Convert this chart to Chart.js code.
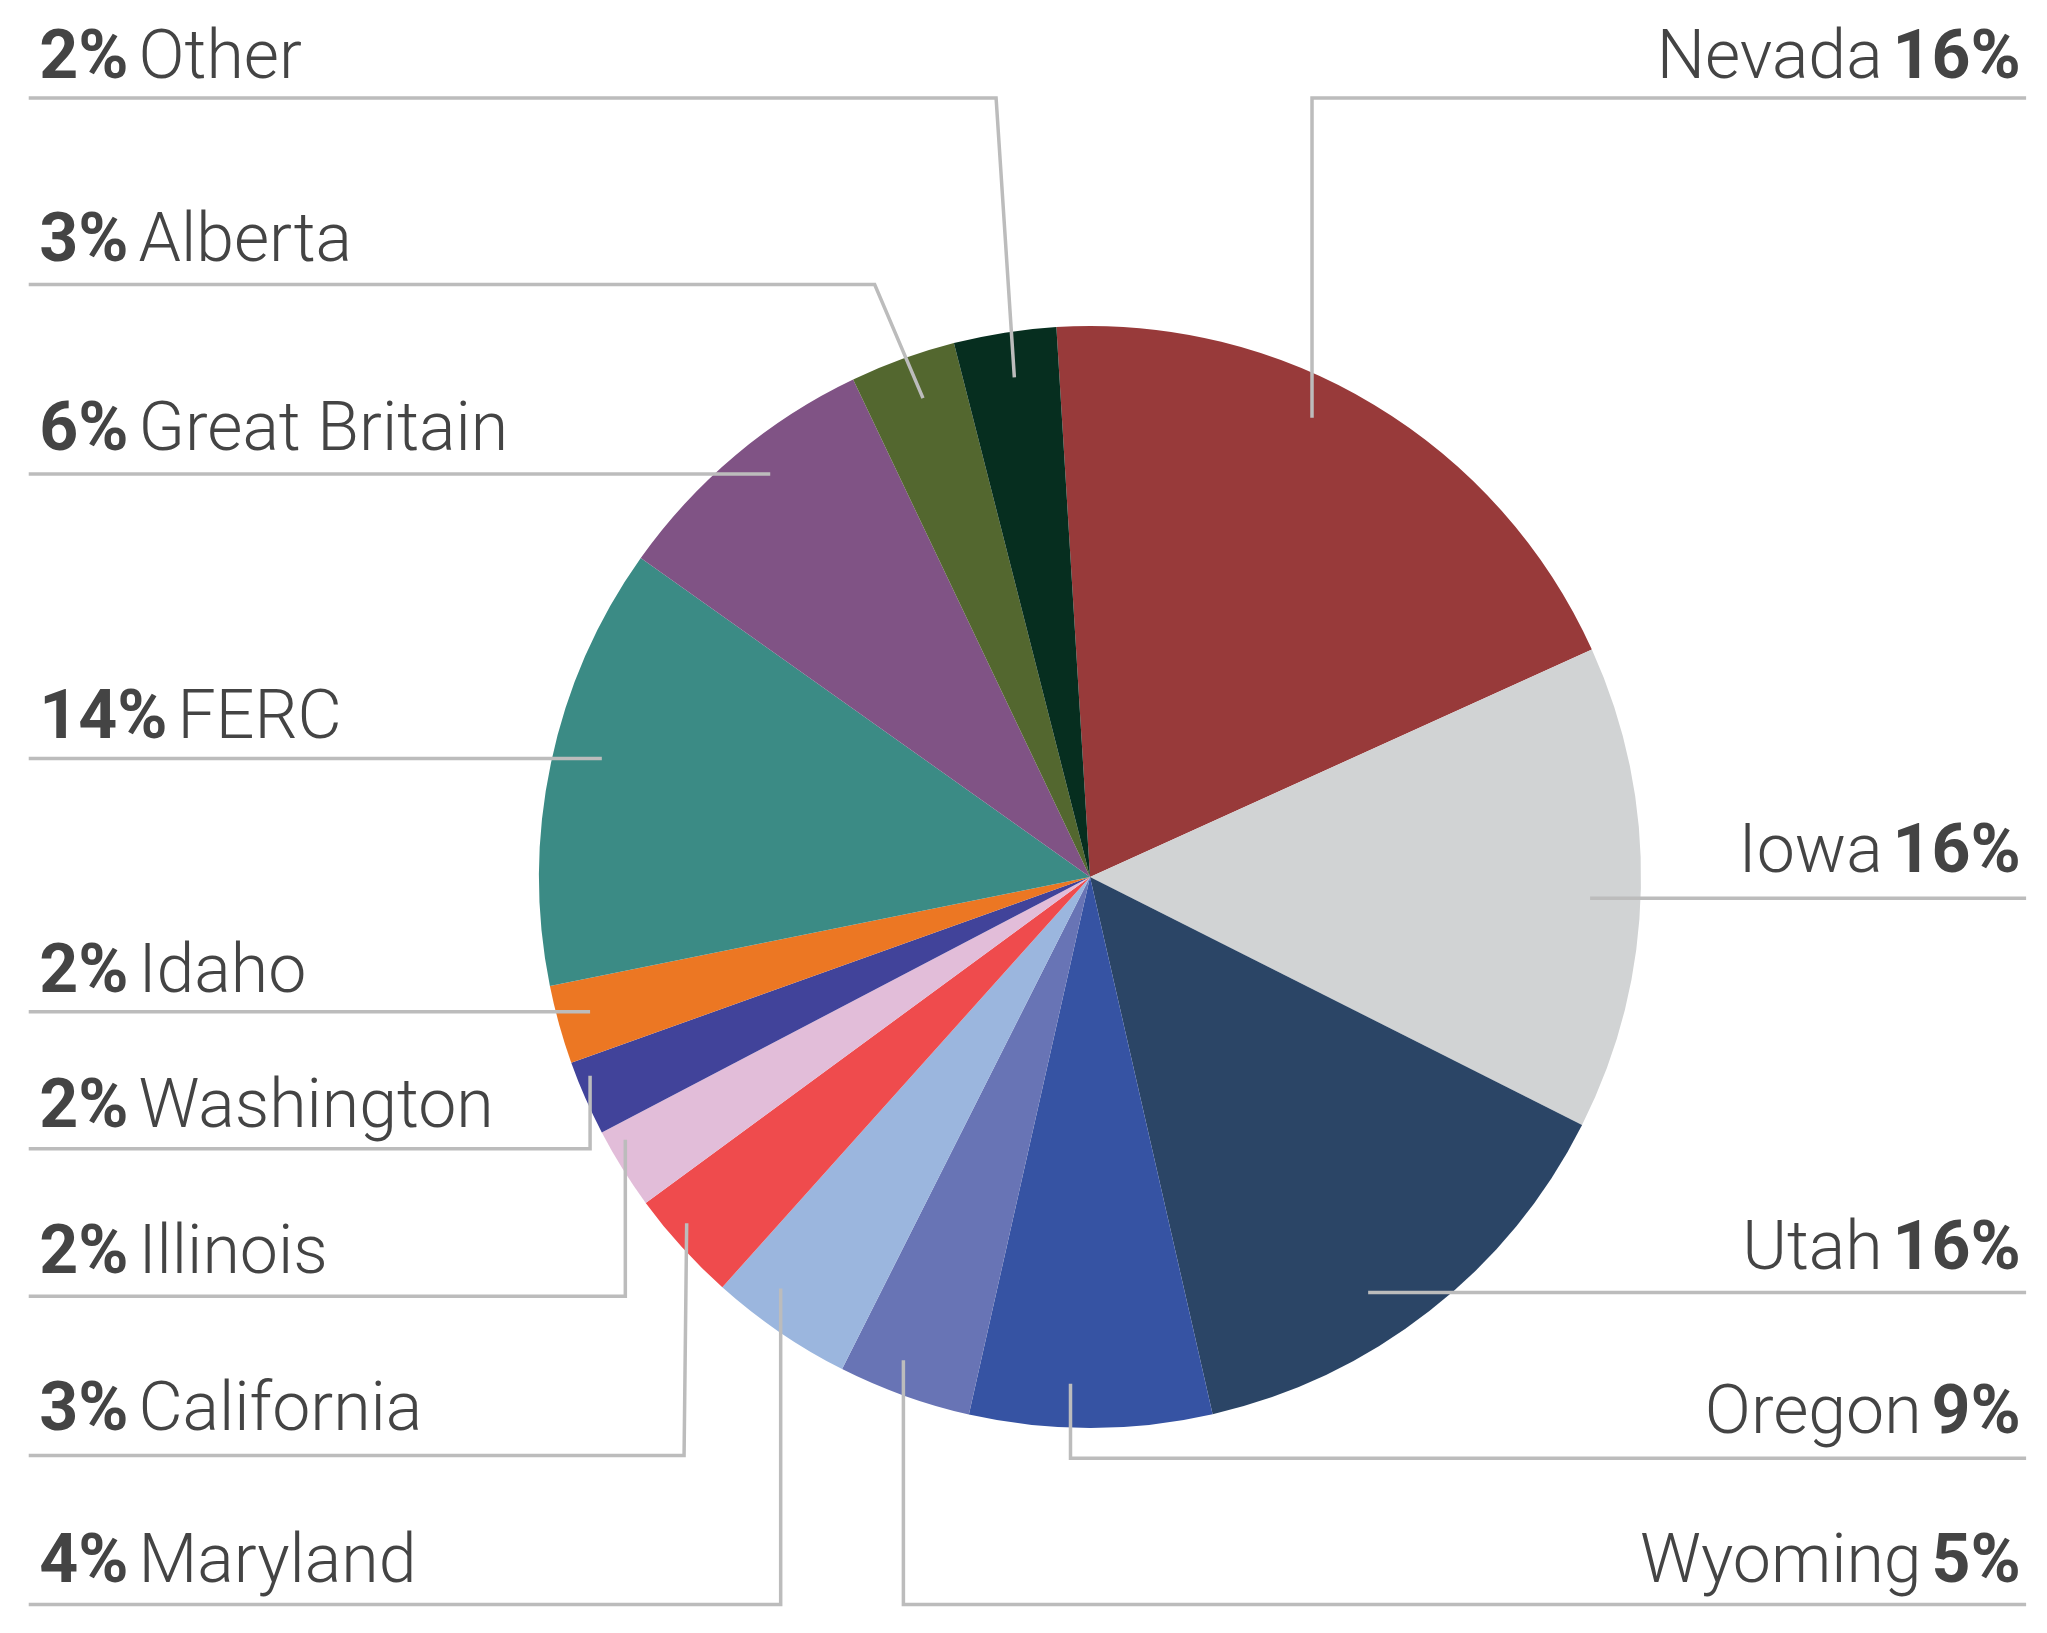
<!DOCTYPE html>
<html><head><meta charset="utf-8">
<script src="https://cdn.jsdelivr.net/npm/chart.js@4/dist/chart.umd.min.js"></script>
<style>html,body{margin:0;padding:0;background:#fff}#w{width:2047px;height:1633px}</style>
</head><body><div id="w"><canvas id="c"></canvas></div>
<script>
const categories = ["Nevada","Iowa","Utah","Oregon","Wyoming","Maryland","California","Illinois","Washington","Idaho","FERC","Great Britain","Alberta","Other"];
const values = [19.2,14.2,14.0,7.1,3.9,4.2,3.3,2.4,2.2,2.3,13.0,8.1,3.1,3.0];
const labelPct = ["16%","16%","16%","9%","5%","4%","3%","2%","2%","2%","14%","6%","3%","2%"];
const colors = ["#983a3a","#d1d3d4","#2b4566","#3653a3","#6874b5","#9bb6de","#ef4b4d","#e2bdd9","#41439a","#ec7723","#3b8b85","#805385","#53672f","#062e1f"];
const S = 2047/1568;
const layout = [
 ["R",60,75,1005,1005,320],
 ["R",668,688,1218,1218,688],
 ["R",972,990,1048,1048,990],
 ["R",1098,1117,820,820,1060],
 ["R",1212,1229,692,692,1042],
 ["L",1212,1229,598,598,987],
 ["L",1095,1115,524,526,937],
 ["L",975,993,479,479,873],
 ["L",863,880,452,452,824],
 ["L",760,775,452,452,775],
 ["L",565,581,461,461,581],
 ["L",345,363,590,590,363],
 ["L",200,218,670,707,305],
 ["L",60,75,763,777,289]
];
const labelPlugin = {
 id:'lbl',
 afterDraw(chart){
  const ctx = chart.ctx;
  ctx.save();
  ctx.strokeStyle = '#bcbcbc'; ctx.lineWidth = 3.5; ctx.lineJoin='miter';
  const fs = 68;
  const bold = `700 ${fs}px Roboto`, light = `300 ${fs}px Roboto`;
  categories.forEach((name,i)=>{
   const [side,ty,ly,ex,ax,ay] = layout[i];
   const x0 = side==="L" ? 22 : 1552;
   ctx.beginPath();
   ctx.moveTo(x0*S, ly*S); ctx.lineTo(ex*S, ly*S); ctx.lineTo(ax*S, ay*S);
   ctx.stroke();
   ctx.fillStyle = '#444'; ctx.textBaseline='alphabetic';
   const y = ty*S;
   if (side==="L"){
    let x = 30*S;
    ctx.font = bold; ctx.textAlign='left'; ctx.fillText(labelPct[i], x, y);
    x += ctx.measureText(labelPct[i]).width + 10;
    ctx.font = light; ctx.fillText(name, x, y);
   } else {
    let x = 1548*S;
    ctx.font = bold; ctx.textAlign='right'; ctx.fillText(labelPct[i], x, y);
    x -= ctx.measureText(labelPct[i]).width + 10;
    ctx.font = light; ctx.fillText(name, x, y);
   }
  });
  ctx.restore();
 }
};
new Chart(document.getElementById('c'),{
 type:'pie',
 data:{labels:categories,datasets:[{data:values,backgroundColor:colors,borderWidth:0}]},
 options:{responsive:true,maintainAspectRatio:false,animation:false,rotation:-3.5,
  layout:{padding:{top:326,bottom:205,left:539,right:406}},
  plugins:{legend:{display:false},tooltip:{enabled:false}}},
 plugins:[labelPlugin]
});
</script></body></html>
